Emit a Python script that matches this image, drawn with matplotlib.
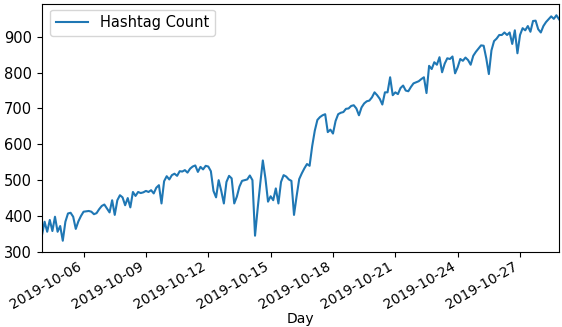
import matplotlib
matplotlib.use("Agg")
import matplotlib.pyplot as plt
import matplotlib.dates as mdates
import pandas as pd

start = "2019-10-04 00:00"
freq = "3h"
hashtag_count = [
    347, 384, 356, 389, 358, 398, 356, 372, 331, 384,
    407, 409, 398, 364, 385, 400, 412, 413, 414, 412,
    405, 408, 419, 428, 432, 421, 410, 444, 403, 444,
    458, 452, 430, 450, 424, 467, 456, 467, 464, 466,
    470, 467, 472, 463, 479, 486, 435, 497, 511, 502,
    514, 518, 512, 525, 524, 528, 521, 532, 538, 541,
    523, 537, 530, 540, 538, 525, 470, 452, 500, 470,
    435, 495, 512, 505, 435, 454, 482, 498, 500, 502,
    513, 500, 345, 420, 490, 555, 505, 440, 455, 444,
    477, 435, 495, 514, 510, 502, 498, 403, 455, 503,
    519, 533, 545, 540, 595, 638, 668, 676, 681, 684,
    634, 641, 630, 665, 684, 688, 690, 699, 700, 707,
    709, 700, 681, 703, 714, 720, 722, 731, 745, 737,
    727, 711, 745, 745, 787, 737, 745, 740, 757, 764,
    750, 748, 760, 770, 773, 776, 782, 787, 743, 819,
    810, 829, 822, 843, 801, 825, 840, 838, 845, 798,
    815, 838, 833, 842, 835, 822, 847, 858, 867, 876,
    875, 840, 796, 862, 888, 895, 905, 905, 912, 905,
    912, 880, 918, 854, 905, 924, 918, 930, 914, 944,
    945, 921, 912, 930, 941, 949, 957, 950, 960, 949,
]
series_label = "Hashtag Count"
x_label = "Day"

days = pd.date_range(start=start, periods=len(hashtag_count), freq=freq)
df = pd.DataFrame({series_label: hashtag_count}, index=days)

W, H, DPI = 562, 327, 100
fig, ax = plt.subplots(figsize=(W / DPI, H / DPI), dpi=DPI)
fig.subplots_adjust(left=42 / W, right=559 / W, top=1 - 4 / H, bottom=1 - 252 / H)

ax.plot(df.index, df[series_label], color="#1f77b4", linewidth=1.5, label=series_label)
ax.set_xlim(df.index[0], df.index[-1])
ax.margins(y=0.05)

ax.xaxis.set_major_locator(mdates.DayLocator(bymonthday=[3, 6, 9, 12, 15, 18, 21, 24, 27, 30]))
ax.xaxis.set_major_formatter(mdates.DateFormatter("%Y-%m-%d"))
ax.tick_params(axis="x", pad=2)
for lbl in ax.get_xticklabels():
    lbl.set_rotation(30)
    lbl.set_ha("right")
ax.tick_params(axis="y", labelsize=10.5)

ax.set_xlabel(x_label, labelpad=0)
ax.legend(loc="upper left", fontsize=10.5, handlelength=2.2,
          bbox_to_anchor=(0.0, 1.01), borderaxespad=0.55)

fig.savefig("out.png", dpi=DPI)
